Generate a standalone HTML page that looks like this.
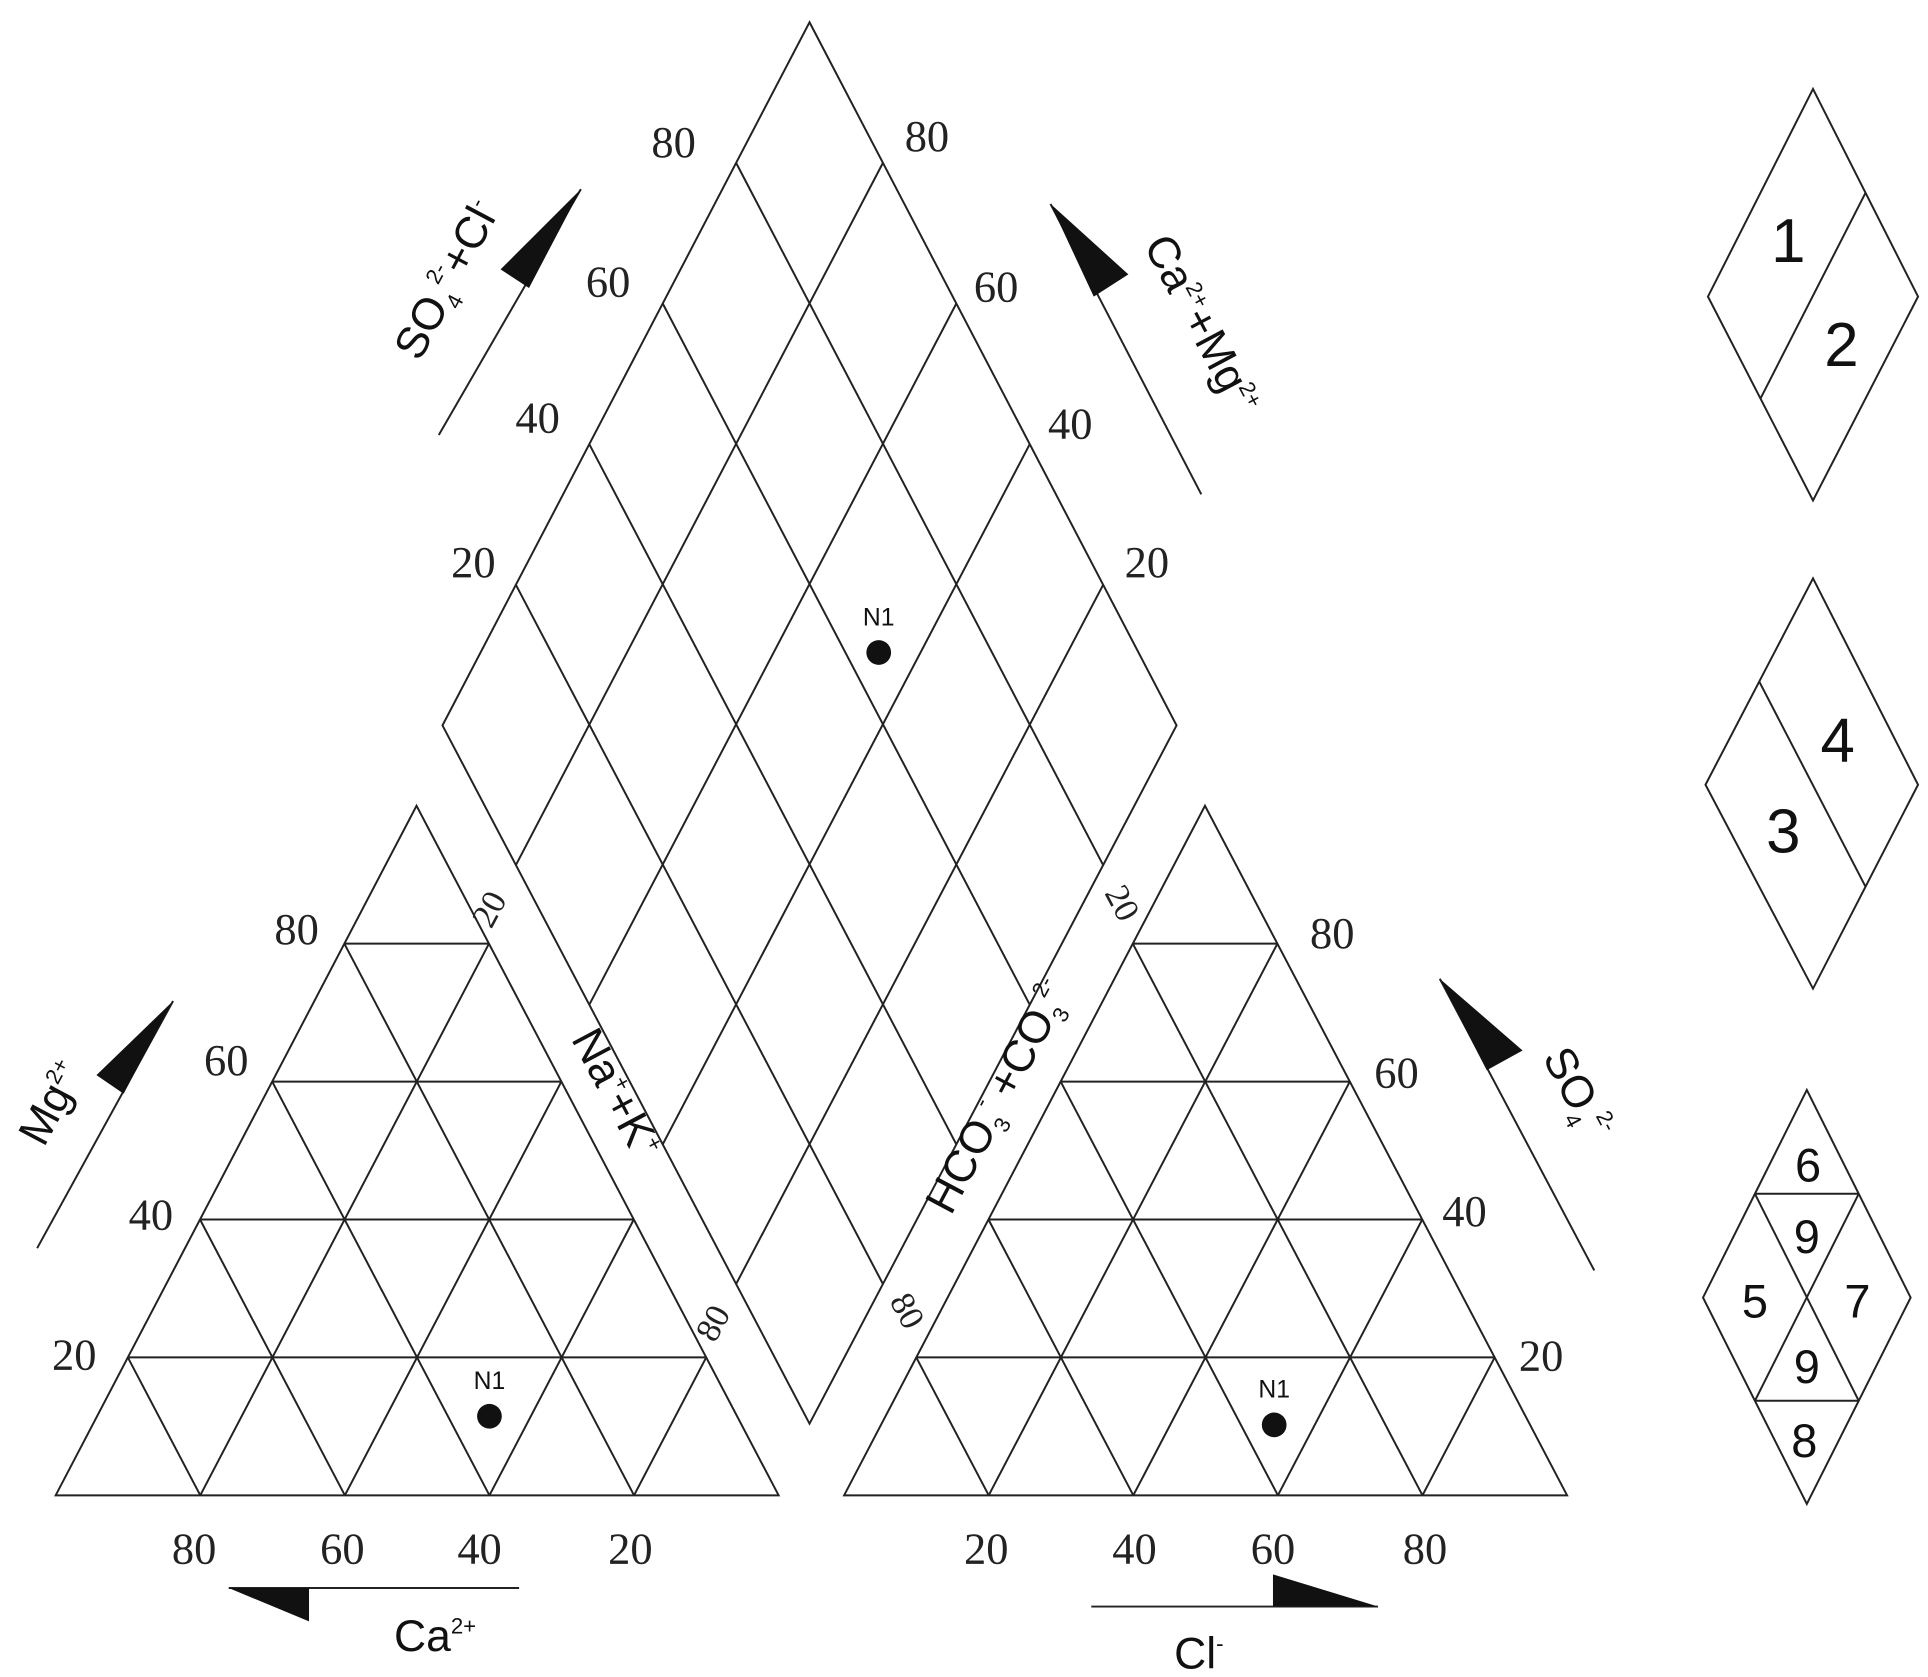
<!DOCTYPE html>
<html><head><meta charset="utf-8"><style>
html,body{margin:0;padding:0;background:#fff}
svg{display:block}
.n{font-family:"Liberation Serif",serif;font-size:36px;fill:#222}
.s{font-family:"Liberation Sans",sans-serif;fill:#111}
.lg{font-family:"Liberation Sans",sans-serif;font-size:50px;fill:#111}
</style></head><body>
<svg width="1928" height="1677" viewBox="0 0 1560 1357" xmlns="http://www.w3.org/2000/svg">
<g fill="none" stroke="#222" stroke-width="1.6">
<!-- diamond -->
<polygon points="655,18 952,587 655,1152 358,587"/>
<line x1="714.4" y1="131.8" x2="417.4" y2="700"/>
<line x1="773.8" y1="245.6" x2="476.8" y2="813"/>
<line x1="833.2" y1="359.4" x2="536.2" y2="926"/>
<line x1="892.6" y1="473.2" x2="595.6" y2="1039"/>
<line x1="595.6" y1="131.8" x2="892.6" y2="700"/>
<line x1="536.2" y1="245.6" x2="833.2" y2="813"/>
<line x1="476.8" y1="359.4" x2="773.8" y2="926"/>
<line x1="417.4" y1="473.2" x2="714.4" y2="1039"/>
<!-- left triangle -->
<g id="tri">
<polygon points="45,1210 630,1210 337,652"/>
<line x1="103.4" y1="1098.4" x2="571.4" y2="1098.4"/>
<line x1="161.8" y1="986.8" x2="512.8" y2="986.8"/>
<line x1="220.2" y1="875.2" x2="454.2" y2="875.2"/>
<line x1="278.6" y1="763.6" x2="395.8" y2="763.6"/>
<line x1="162" y1="1210" x2="395.6" y2="763.6"/>
<line x1="279" y1="1210" x2="454.2" y2="875.2"/>
<line x1="396" y1="1210" x2="512.8" y2="986.8"/>
<line x1="513" y1="1210" x2="571.4" y2="1098.4"/>
<line x1="162" y1="1210" x2="103.4" y2="1098.4"/>
<line x1="279" y1="1210" x2="161.8" y2="986.8"/>
<line x1="396" y1="1210" x2="220.2" y2="875.2"/>
<line x1="513" y1="1210" x2="278.6" y2="763.6"/>
</g>
<use href="#tri" transform="translate(638,0)"/>
<!-- axis lines -->
<line x1="30" y1="1010" x2="140" y2="810"/>
<line x1="355" y1="352" x2="470" y2="153"/>
<line x1="972" y1="400" x2="850" y2="165"/>
<line x1="1290" y1="1028" x2="1165" y2="792"/>
<line x1="185" y1="1285" x2="420" y2="1285"/>
<line x1="883" y1="1300" x2="1115" y2="1300"/>
<!-- legend -->
<polygon points="1467,72 1552,240 1467,405 1382,240"/>
<line x1="1509.5" y1="156" x2="1424.5" y2="322.5"/>
<polygon points="1467,468 1552,635 1467,800 1380,635"/>
<line x1="1423.5" y1="551.5" x2="1509.5" y2="717.5"/>
<polygon points="1462,882 1546,1050 1462,1217 1378,1050"/>
<line x1="1420" y1="966" x2="1504" y2="966"/>
<line x1="1420" y1="1133.5" x2="1504" y2="1133.5"/>
<line x1="1420" y1="966" x2="1504" y2="1133.5"/>
<line x1="1504" y1="966" x2="1420" y2="1133.5"/>
</g>
<g fill="#111">
<polygon points="140,810 78,870 100,885"/>
<polygon points="470,153 405,218 428,233"/>
<polygon points="850,165 885,240 913,222"/>
<polygon points="1165,792 1203,866 1232,850"/>
<polygon points="185,1285 250,1285 250,1312"/>
<polygon points="1115,1300 1030,1300 1030,1274"/>
<circle cx="711" cy="528" r="10"/>
<circle cx="396" cy="1146" r="10"/>
<circle cx="1031" cy="1153" r="10"/>
</g>
<g class="s" font-size="20" text-anchor="middle">
<text x="711" y="506">N1</text>
<text x="396" y="1124">N1</text>
<text x="1031" y="1131">N1</text>
</g>
<g class="n" text-anchor="middle">
<text x="240" y="764">80</text><text x="183" y="870">60</text><text x="122" y="995">40</text><text x="60" y="1108">20</text>
<text x="157" y="1265">80</text><text x="277" y="1265">60</text><text x="388" y="1265">40</text><text x="510" y="1265">20</text>
<text x="798" y="1265">20</text><text x="918" y="1265">40</text><text x="1030" y="1265">60</text><text x="1153" y="1265">80</text>
<text x="1078" y="767">80</text><text x="1130" y="880">60</text><text x="1185" y="992">40</text><text x="1247" y="1109">20</text>
<text x="545" y="127">80</text><text x="492" y="240">60</text><text x="435" y="350">40</text><text x="383" y="467">20</text>
<text x="750" y="122">80</text><text x="806" y="244">60</text><text x="866" y="355">40</text><text x="928" y="467">20</text>
<text font-size="28" transform="translate(404,740) rotate(-62)">20</text>
<text font-size="28" transform="translate(585,1075) rotate(-62)">80</text>
<text font-size="28" transform="translate(900,735) rotate(62)">20</text>
<text font-size="28" transform="translate(726,1065) rotate(62)">80</text>
</g>
<g class="s" font-size="36" text-anchor="middle">
<text transform="translate(488,890) rotate(62)">Na<tspan font-size="18" dy="-14">+</tspan><tspan dy="14">+K</tspan><tspan font-size="18" dy="-14">+</tspan></text>
<text transform="translate(818,893) rotate(-62)">HCO<tspan font-size="18" dy="8">3</tspan><tspan font-size="18" dy="-24">-</tspan><tspan dy="16"> +CO</tspan><tspan font-size="18" dy="8">3</tspan><tspan font-size="18" dy="-24">2-</tspan></text>
<text transform="translate(372,232) rotate(-62)">SO<tspan font-size="18" dy="8">4</tspan><tspan font-size="18" dy="-24">2-</tspan><tspan dy="16">+Cl</tspan><tspan font-size="18" dy="-14">-</tspan></text>
<text transform="translate(962,268) rotate(62)">Ca<tspan font-size="18" dy="-14">2+</tspan><tspan dy="14">+Mg</tspan><tspan font-size="18" dy="-14">2+</tspan></text>
<text transform="translate(52,898) rotate(-62)">Mg<tspan font-size="18" dy="-14">2+</tspan></text>
<text transform="translate(1266,890) rotate(62)">SO<tspan font-size="18" dy="8">4</tspan><tspan font-size="18" dy="-24">2-</tspan></text>
<text x="352" y="1336">Ca<tspan font-size="18" dy="-14">2+</tspan></text>
<text x="970" y="1350">Cl<tspan font-size="18" dy="-14">-</tspan></text>
</g>
<g class="lg" text-anchor="middle">
<text x="1447" y="212">1</text><text x="1490" y="296">2</text>
<text x="1487" y="616">4</text><text x="1443" y="690">3</text>
<text x="1463" y="956" font-size="38">6</text><text x="1462" y="1014" font-size="38">9</text>
<text x="1420" y="1066" font-size="38">5</text><text x="1503" y="1066" font-size="38">7</text>
<text x="1462" y="1119" font-size="38">9</text><text x="1460" y="1179" font-size="38">8</text>
</g>
</svg>
</body></html>
